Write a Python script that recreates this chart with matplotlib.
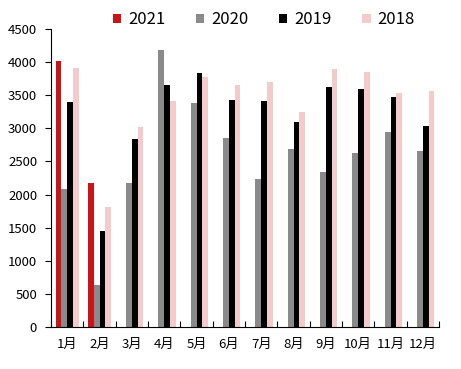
import numpy as np
import matplotlib.pyplot as plt

plt.rcParams['font.family'] = ['Noto Sans CJK SC', 'DejaVu Sans']

months = ['1月', '2月', '3月', '4月', '5月', '6月', '7月', '8月', '9月', '10月', '11月', '12月']
years = ['2021', '2020', '2019', '2018']
v2021 = [4010, 2180, 0, 0, 0, 0, 0, 0, 0, 0, 0, 0]
v2020 = [2080, 630, 2180, 4180, 3380, 2860, 2230, 2690, 2340, 2620, 2950, 2660]
v2019 = [3400, 1450, 2840, 3650, 3830, 3430, 3420, 3090, 3620, 3590, 3480, 3040]
v2018 = [3910, 1810, 3020, 3420, 3780, 3660, 3700, 3250, 3900, 3850, 3530, 3560]
colors = ['#CC1418', '#8A8A8A', '#000000', '#F5CACB']

fig = plt.figure(figsize=(4.61, 3.69), dpi=100)
ax = fig.add_axes([51 / 461, 42 / 369, 388 / 461, 298 / 369])

x = np.arange(len(months))
w = 0.18
series = [v2021, v2020, v2019, v2018]
handles = []
for i, (vals, c, lab) in enumerate(zip(series, colors, years)):
    b = ax.bar(x + (i - 1.5) * w, vals, width=w, color=c, label=lab)
    handles.append(b)

ax.set_xlim(-0.5, 11.5)
ax.set_ylim(0, 4500)
ax.set_yticks(np.arange(0, 4501, 500))
ax.set_xticks(x)
ax.set_xticklabels(months)
ax.set_xticks(np.arange(-0.5, 12, 1), minor=True)
ax.tick_params(axis='x', which='major', length=0, pad=8, labelsize=9.5)
ax.tick_params(axis='x', which='minor', direction='in', length=4, width=0.8)
ax.tick_params(axis='y', direction='out', length=4, width=0.8, labelsize=9.5, pad=6)
for s in ['top', 'right']:
    ax.spines[s].set_visible(False)
for s in ['left', 'bottom']:
    ax.spines[s].set_linewidth(0.8)

fig.legend(handles=handles, labels=years, loc='upper center', ncol=4,
           bbox_to_anchor=(0.572, 1.01), frameon=False, fontsize=12,
           handlelength=0.5, handleheight=0.5, handletextpad=0.4,
           columnspacing=1.85)

fig.savefig('out.png', dpi=100)
